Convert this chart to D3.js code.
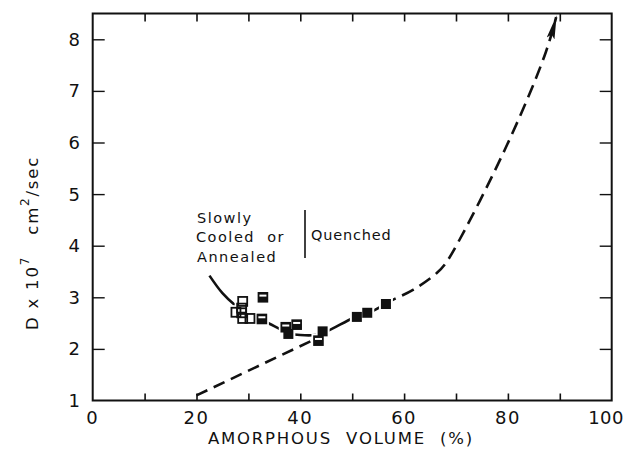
<!DOCTYPE html>
<html>
<head>
<meta charset="utf-8">
<script src="https://cdn.jsdelivr.net/npm/d3@7/dist/d3.min.js"></script>
<style>
  html, body { margin: 0; padding: 0; background: #fff; }
  svg { display: block; }
  text { font-family: "DejaVu Sans", "Liberation Sans", sans-serif; fill: #111; white-space: pre; }
</style>
</head>
<body>
<script>
// Diffusion coefficient vs. amorphous volume fraction

// Slowly cooled or annealed samples (open squares)
const slowX = [28.9, 28.7, 27.6, 28.7, 28.9, 30.3];
const slowY = [2.92, 2.79, 2.71, 2.70, 2.59, 2.59];

// Quenched samples; kind: "half" = partly filled, "full" = solid
const quenchX = [32.8, 32.6, 37.2, 37.7, 39.3, 44.3, 43.5, 50.9, 52.9, 56.5];
const quenchY = [3.00, 2.58, 2.42, 2.29, 2.47, 2.34, 2.16, 2.62, 2.70, 2.87];
const quenchKind = ["half", "half", "half", "full", "half", "full", "half", "full", "full", "full"];

// Fitted trend through the measured points (solid part)
const trendX = [22.5, 25.0, 27.5, 30.0, 33.2, 36.4, 38.0, 40.0, 42.8, 45.1, 50.2, 53.6, 56.2];
const trendY = [3.42, 3.08, 2.84, 2.66, 2.53, 2.37, 2.30, 2.27, 2.27, 2.34, 2.60, 2.72, 2.86];

// Extrapolated trend (dashed, ending in an arrow)
const extrapX = [56.2, 58.2, 61.8, 66.3, 69.5, 74.6, 79.4, 83.7, 87.3, 89.3];
const extrapY = [2.86, 2.97, 3.15, 3.47, 3.90, 4.87, 5.86, 6.83, 7.75, 8.43];

// Straight dashed reference line
const refX = [20.0, 43.5];
const refY = [1.10, 2.22];

// Axis ticks
const xTickLabels = [0, 20, 40, 60, 80, 100];
const xMinorTicks = [10, 20, 30, 40, 50, 60, 70, 80, 90];
const yTickLabels = [1, 2, 3, 4, 5, 6, 7, 8];

const W = 625, H = 452;
const svg = d3.select("body").append("svg").attr("width", W).attr("height", H);

const x = d3.scaleLinear().domain([0, 100]).range([92.7, 611.7]);
const y = d3.scaleLinear().domain([1, 8.5]).range([400.5, 13.5]);

const ink = "#111";

// Frame
svg.append("rect")
  .attr("x", x(0)).attr("y", y(8.5))
  .attr("width", x(100) - x(0)).attr("height", y(1) - y(8.5))
  .attr("fill", "none").attr("stroke", ink).attr("stroke-width", 2);

// Bottom axis: inward ticks + labels
const axisB = d3.axisBottom(x).tickValues(xMinorTicks).tickSize(-7).tickFormat("");
const gB = svg.append("g").attr("transform", `translate(0,${y(1)})`).call(axisB);
gB.select(".domain").remove();
gB.selectAll("line").attr("stroke", ink).attr("stroke-width", 1.6);

svg.append("g").selectAll("text").data(xTickLabels).join("text")
  .attr("x", d => d === 100 ? 624 : x(d))
  .attr("y", 424)
  .attr("text-anchor", d => d === 100 ? "end" : "middle")
  .attr("font-size", 18).attr("letter-spacing", d => d === 100 ? 0.5 : 1.5)
  .text(d => d);

// Top axis ticks
const axisT = d3.axisTop(x).tickValues(xMinorTicks).tickSize(-8).tickFormat("");
const gT = svg.append("g").attr("transform", `translate(0,${y(8.5)})`).call(axisT);
gT.select(".domain").remove();
gT.selectAll("line").attr("stroke", ink).attr("stroke-width", 1.6);

// Left axis
const axisL = d3.axisLeft(y).tickValues(yTickLabels.slice(1)).tickSize(-12).tickFormat("");
const gL = svg.append("g").attr("transform", `translate(${x(0)},0)`).call(axisL);
gL.select(".domain").remove();
gL.selectAll("line").attr("stroke", ink).attr("stroke-width", 1.4);

svg.append("g").selectAll("text").data(yTickLabels).join("text")
  .attr("x", 80).attr("y", d => y(d) + 6.5)
  .attr("text-anchor", "end")
  .attr("font-size", 18)
  .text(d => d);

// Right axis
const axisR = d3.axisRight(y).tickValues(yTickLabels.slice(1)).tickSize(-12).tickFormat("");
const gR = svg.append("g").attr("transform", `translate(${x(100)},0)`).call(axisR);
gR.select(".domain").remove();
gR.selectAll("line").attr("stroke", ink).attr("stroke-width", 1.4);

// Axis titles
svg.append("text")
  .attr("x", 341).attr("y", 444)
  .attr("text-anchor", "middle")
  .attr("font-size", 16.5).attr("letter-spacing", 1.8)
  .text("AMORPHOUS  VOLUME  (%)");

const yt = svg.append("text")
  .attr("transform", `translate(38,${243}) rotate(-90)`)
  .attr("text-anchor", "middle")
  .attr("font-size", 16.5).attr("letter-spacing", 1.8);
yt.append("tspan").text("D x 10");
yt.append("tspan").attr("dy", -9).attr("font-size", 12).text("7");
yt.append("tspan").attr("dy", 9).text("   cm");
yt.append("tspan").attr("dy", -9).attr("font-size", 12).text("2");
yt.append("tspan").attr("dy", 9).text("/sec");

// Curves
const line = d3.line().x(d => x(d[0])).y(d => y(d[1]));
const smooth = d3.line().x(d => x(d[0])).y(d => y(d[1])).curve(d3.curveCatmullRom.alpha(0.5));
const spline = d3.line().x(d => x(d[0])).y(d => y(d[1])).curve(d3.curveNatural);

svg.append("path")
  .attr("d", line(d3.zip(refX, refY)))
  .attr("fill", "none").attr("stroke", ink).attr("stroke-width", 2.6)
  .attr("stroke-dasharray", "12,7");

svg.append("path")
  .attr("d", smooth(d3.zip(trendX, trendY)))
  .attr("fill", "none").attr("stroke", ink).attr("stroke-width", 2.6);

svg.append("defs").append("marker")
  .attr("id", "arrow")
  .attr("viewBox", "0 0 24 9")
  .attr("refX", 22).attr("refY", 4.5)
  .attr("markerWidth", 24).attr("markerHeight", 9)
  .attr("markerUnits", "userSpaceOnUse")
  .attr("orient", "auto")
  .append("path").attr("d", "M0,0.5 L24,4.5 L0,8.5 L4,4.5 Z").attr("fill", ink);

svg.append("path")
  .attr("d", spline(d3.zip(extrapX, extrapY)))
  .attr("fill", "none").attr("stroke", ink).attr("stroke-width", 2.6)
  .attr("stroke-dasharray", "13,7")
  .attr("marker-end", "url(#arrow)");

// Markers: white halos first so neighbouring symbols stay visible
const s = 9;
const pts = slowX.map((v, i) => ({ px: x(v), py: y(slowY[i]), kind: "open" }))
  .concat(quenchX.map((v, i) => ({ px: x(v), py: y(quenchY[i]), kind: quenchKind[i] })));

const gm = svg.append("g");
gm.selectAll("rect.halo").data(pts).join("rect").attr("class", "halo")
  .attr("x", d => d.px - s / 2 - 2.5).attr("y", d => d.py - s / 2 - 2.5)
  .attr("width", s + 5).attr("height", s + 5).attr("fill", "#fff");

pts.forEach(d => {
  if (d.kind === "open") {
    gm.append("rect").attr("x", d.px - s / 2).attr("y", d.py - s / 2)
      .attr("width", s).attr("height", s)
      .attr("fill", "none").attr("stroke", ink).attr("stroke-width", 1.8);
  } else if (d.kind === "half") {
    gm.append("rect").attr("x", d.px - s / 2).attr("y", d.py - s / 2)
      .attr("width", s).attr("height", s)
      .attr("fill", ink).attr("stroke", ink).attr("stroke-width", 1.6);
    gm.append("rect").attr("x", d.px - s / 2 + 1).attr("y", d.py - s / 2 + 1.8)
      .attr("width", s - 2).attr("height", 2).attr("fill", "#fff");
  } else {
    gm.append("rect").attr("x", d.px - s / 2 - 0.5).attr("y", d.py - s / 2 - 0.5)
      .attr("width", s + 1).attr("height", s + 1).attr("fill", ink);
  }
});

// Annotation
const ann = svg.append("g").attr("font-size", 14.5).attr("letter-spacing", 1.5);
ann.append("text").attr("x", 197).attr("y", 222.5).text("Slowly");
ann.append("text").attr("x", 196).attr("y", 242).text("Cooled  or");
ann.append("text").attr("x", 197).attr("y", 261.5).text("Annealed");
ann.append("text").attr("x", 311).attr("y", 239.5).attr("letter-spacing", 0.8).text("Quenched");
svg.append("line")
  .attr("x1", 305).attr("x2", 305).attr("y1", 210).attr("y2", 258)
  .attr("stroke", ink).attr("stroke-width", 1.6);
</script>
</body>
</html>
